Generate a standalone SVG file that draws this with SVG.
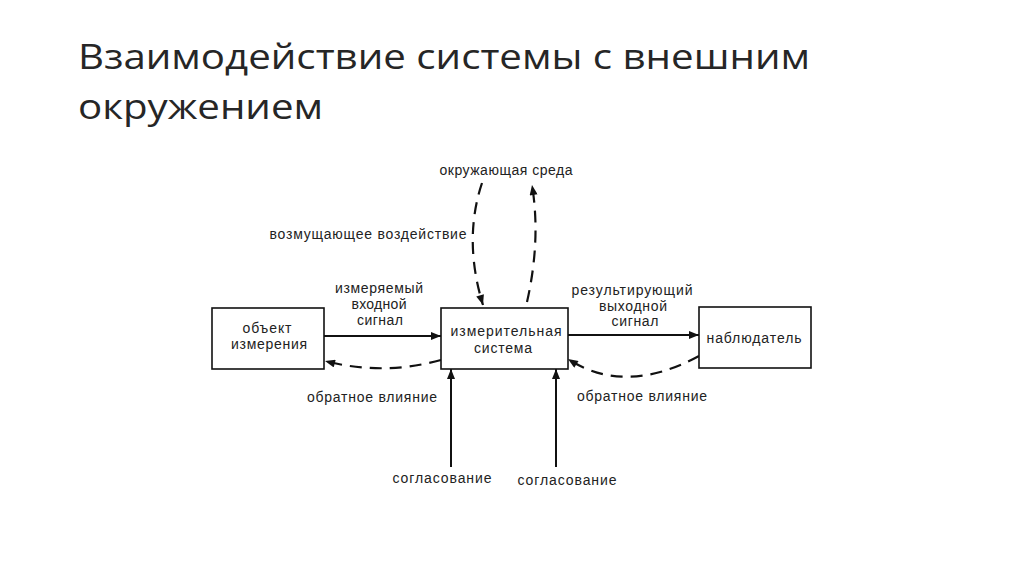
<svg xmlns="http://www.w3.org/2000/svg" width="1024" height="574" viewBox="0 0 1024 574">
<style>
.title{font-family:"Open Sans","Liberation Sans",sans-serif;font-size:35px;fill:#262626;font-weight:400}
.lbl{font-family:"Liberation Sans","DejaVu Sans",sans-serif;font-size:14px;fill:#222}
.box{fill:#fff;stroke:#111;stroke-width:1.6}
.ln{fill:none;stroke:#111;stroke-width:2}
.dash{fill:none;stroke:#111;stroke-width:2.2;stroke-dasharray:12 8}
</style>
<defs>
<marker id="ah" viewBox="0 0 10 8" refX="10" refY="4" markerWidth="11" markerHeight="8" markerUnits="userSpaceOnUse" orient="auto">
<path d="M0,0 L10,4 L0,8 Z" fill="#111"/>
</marker>
</defs>
<rect width="1024" height="574" fill="#fff"/>
<g id="title">
<text class="title" x="78" y="69" textLength="732" lengthAdjust="spacingAndGlyphs">Взаимодействие системы с внешним</text>
<text class="title" x="78" y="119" textLength="245" lengthAdjust="spacingAndGlyphs">окружением</text>
</g>
<g id="connectors">
<line class="ln" x1="324" y1="336" x2="441" y2="336" marker-end="url(#ah)"/>
<line class="ln" x1="568" y1="335" x2="699" y2="335" marker-end="url(#ah)"/>
<path class="dash" d="M441,360 Q383,376 325,361" marker-end="url(#ah)"/>
<path class="dash" d="M699,356 Q625,396 568,359" marker-end="url(#ah)"/>
<path class="dash" d="M482,183 Q463,240 483,305" marker-end="url(#ah)"/>
<path class="dash" d="M527,302 Q541,240 532,185" marker-end="url(#ah)"/>
<line class="ln" x1="451" y1="467" x2="451" y2="369" marker-end="url(#ah)"/>
<line class="ln" x1="556" y1="467" x2="556" y2="369" marker-end="url(#ah)"/>
</g>
<g id="node-object">
<rect class="box" x="212" y="308" width="112" height="61"/>
<text class="lbl" x="267" y="333" text-anchor="middle" textLength="49" lengthAdjust="spacing">объект</text>
<text class="lbl" x="269" y="349" text-anchor="middle" textLength="76" lengthAdjust="spacing">измерения</text>
</g>
<g id="node-system">
<rect class="box" x="441" y="308" width="127" height="61"/>
<text class="lbl" x="506" y="336" text-anchor="middle" textLength="111" lengthAdjust="spacing">измерительная</text>
<text class="lbl" x="503" y="353" text-anchor="middle" textLength="58" lengthAdjust="spacing">система</text>
</g>
<g id="node-observer">
<rect class="box" x="699" y="307" width="112" height="61"/>
<text class="lbl" x="754" y="343" text-anchor="middle" textLength="95" lengthAdjust="spacing">наблюдатель</text>
</g>
<g id="labels">
<text class="lbl" x="506" y="175" text-anchor="middle" textLength="133" lengthAdjust="spacing">окружающая среда</text>
<text class="lbl" x="368" y="239" text-anchor="middle" textLength="197" lengthAdjust="spacing">возмущающее воздействие</text>
<text class="lbl" x="379" y="293" text-anchor="middle" textLength="88" lengthAdjust="spacing">измеряемый</text>
<text class="lbl" x="379" y="309" text-anchor="middle" textLength="55" lengthAdjust="spacing">входной</text>
<text class="lbl" x="380" y="325" text-anchor="middle" textLength="46" lengthAdjust="spacing">сигнал</text>
<text class="lbl" x="632" y="295" text-anchor="middle" textLength="121" lengthAdjust="spacing">результирующий</text>
<text class="lbl" x="633" y="311" text-anchor="middle" textLength="68" lengthAdjust="spacing">выходной</text>
<text class="lbl" x="635" y="326" text-anchor="middle" textLength="47" lengthAdjust="spacing">сигнал</text>
<text class="lbl" x="372" y="402" text-anchor="middle" textLength="130" lengthAdjust="spacing">обратное влияние</text>
<text class="lbl" x="642" y="401" text-anchor="middle" textLength="130" lengthAdjust="spacing">обратное влияние</text>
<text class="lbl" x="442" y="483" text-anchor="middle" textLength="99" lengthAdjust="spacing">согласование</text>
<text class="lbl" x="567" y="485" text-anchor="middle" textLength="99" lengthAdjust="spacing">согласование</text>
</g>
</svg>
